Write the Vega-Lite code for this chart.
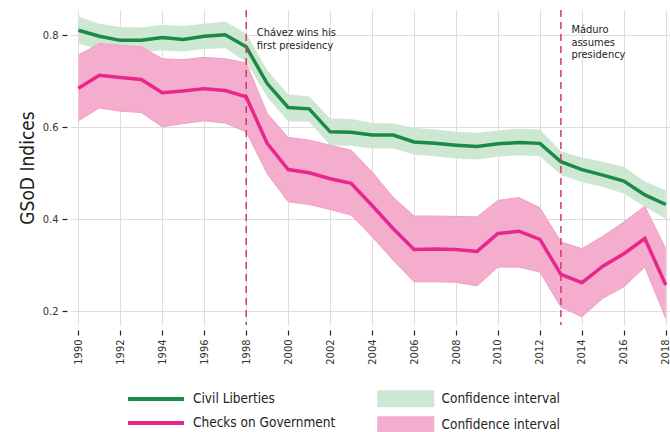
{
  "$schema": "https://vega.github.io/schema/vega-lite/v6.json",
  "width": 600,
  "height": 315,
  "autosize": {"type": "none"},
  "padding": {"left": 70, "top": 10, "right": 0, "bottom": 107},
  "background": "white",
  "config": {
    "font": "Liberation Sans Narrow, DejaVu Sans Condensed, sans-serif",
    "view": {"stroke": null},
    "axis": {"labelColor": "#333", "labelFont": "Liberation Sans Narrow, DejaVu Sans Condensed, sans-serif", "gridColor": "#dddddd", "gridWidth": 1, "tickColor": "#222", "domain": false}
  },
  "datasets": {
    "gsod": [
      {"year": 1990, "series": "Civil Liberties", "band": "CI Civil Liberties", "value": 0.811, "lo": 0.782, "hi": 0.841},
      {"year": 1991, "series": "Civil Liberties", "band": "CI Civil Liberties", "value": 0.798, "lo": 0.769, "hi": 0.825},
      {"year": 1992, "series": "Civil Liberties", "band": "CI Civil Liberties", "value": 0.789, "lo": 0.764, "hi": 0.818},
      {"year": 1993, "series": "Civil Liberties", "band": "CI Civil Liberties", "value": 0.789, "lo": 0.764, "hi": 0.817},
      {"year": 1994, "series": "Civil Liberties", "band": "CI Civil Liberties", "value": 0.795, "lo": 0.767, "hi": 0.823},
      {"year": 1995, "series": "Civil Liberties", "band": "CI Civil Liberties", "value": 0.791, "lo": 0.765, "hi": 0.820},
      {"year": 1996, "series": "Civil Liberties", "band": "CI Civil Liberties", "value": 0.798, "lo": 0.770, "hi": 0.825},
      {"year": 1997, "series": "Civil Liberties", "band": "CI Civil Liberties", "value": 0.801, "lo": 0.772, "hi": 0.830},
      {"year": 1998, "series": "Civil Liberties", "band": "CI Civil Liberties", "value": 0.775, "lo": 0.742, "hi": 0.804},
      {"year": 1999, "series": "Civil Liberties", "band": "CI Civil Liberties", "value": 0.695, "lo": 0.666, "hi": 0.724},
      {"year": 2000, "series": "Civil Liberties", "band": "CI Civil Liberties", "value": 0.643, "lo": 0.613, "hi": 0.672},
      {"year": 2001, "series": "Civil Liberties", "band": "CI Civil Liberties", "value": 0.640, "lo": 0.612, "hi": 0.667},
      {"year": 2002, "series": "Civil Liberties", "band": "CI Civil Liberties", "value": 0.590, "lo": 0.561, "hi": 0.619},
      {"year": 2003, "series": "Civil Liberties", "band": "CI Civil Liberties", "value": 0.589, "lo": 0.560, "hi": 0.618},
      {"year": 2004, "series": "Civil Liberties", "band": "CI Civil Liberties", "value": 0.583, "lo": 0.554, "hi": 0.609},
      {"year": 2005, "series": "Civil Liberties", "band": "CI Civil Liberties", "value": 0.583, "lo": 0.554, "hi": 0.608},
      {"year": 2006, "series": "Civil Liberties", "band": "CI Civil Liberties", "value": 0.568, "lo": 0.541, "hi": 0.599},
      {"year": 2007, "series": "Civil Liberties", "band": "CI Civil Liberties", "value": 0.565, "lo": 0.537, "hi": 0.595},
      {"year": 2008, "series": "Civil Liberties", "band": "CI Civil Liberties", "value": 0.561, "lo": 0.532, "hi": 0.590},
      {"year": 2009, "series": "Civil Liberties", "band": "CI Civil Liberties", "value": 0.558, "lo": 0.530, "hi": 0.588},
      {"year": 2010, "series": "Civil Liberties", "band": "CI Civil Liberties", "value": 0.564, "lo": 0.536, "hi": 0.593},
      {"year": 2011, "series": "Civil Liberties", "band": "CI Civil Liberties", "value": 0.567, "lo": 0.539, "hi": 0.597},
      {"year": 2012, "series": "Civil Liberties", "band": "CI Civil Liberties", "value": 0.565, "lo": 0.537, "hi": 0.595},
      {"year": 2013, "series": "Civil Liberties", "band": "CI Civil Liberties", "value": 0.525, "lo": 0.496, "hi": 0.548},
      {"year": 2014, "series": "Civil Liberties", "band": "CI Civil Liberties", "value": 0.508, "lo": 0.481, "hi": 0.534},
      {"year": 2015, "series": "Civil Liberties", "band": "CI Civil Liberties", "value": 0.496, "lo": 0.470, "hi": 0.525},
      {"year": 2016, "series": "Civil Liberties", "band": "CI Civil Liberties", "value": 0.483, "lo": 0.456, "hi": 0.514},
      {"year": 2017, "series": "Civil Liberties", "band": "CI Civil Liberties", "value": 0.453, "lo": 0.427, "hi": 0.482},
      {"year": 2018, "series": "Civil Liberties", "band": "CI Civil Liberties", "value": 0.432, "lo": 0.401, "hi": 0.463},
      {"year": 1990, "series": "Checks on Government", "band": "CI Checks on Government", "value": 0.685, "lo": 0.614, "hi": 0.757},
      {"year": 1991, "series": "Checks on Government", "band": "CI Checks on Government", "value": 0.713, "lo": 0.642, "hi": 0.782},
      {"year": 1992, "series": "Checks on Government", "band": "CI Checks on Government", "value": 0.708, "lo": 0.635, "hi": 0.778},
      {"year": 1993, "series": "Checks on Government", "band": "CI Checks on Government", "value": 0.704, "lo": 0.632, "hi": 0.775},
      {"year": 1994, "series": "Checks on Government", "band": "CI Checks on Government", "value": 0.675, "lo": 0.601, "hi": 0.749},
      {"year": 1995, "series": "Checks on Government", "band": "CI Checks on Government", "value": 0.679, "lo": 0.608, "hi": 0.747},
      {"year": 1996, "series": "Checks on Government", "band": "CI Checks on Government", "value": 0.684, "lo": 0.614, "hi": 0.752},
      {"year": 1997, "series": "Checks on Government", "band": "CI Checks on Government", "value": 0.680, "lo": 0.609, "hi": 0.749},
      {"year": 1998, "series": "Checks on Government", "band": "CI Checks on Government", "value": 0.666, "lo": 0.590, "hi": 0.740},
      {"year": 1999, "series": "Checks on Government", "band": "CI Checks on Government", "value": 0.565, "lo": 0.499, "hi": 0.630},
      {"year": 2000, "series": "Checks on Government", "band": "CI Checks on Government", "value": 0.508, "lo": 0.438, "hi": 0.578},
      {"year": 2001, "series": "Checks on Government", "band": "CI Checks on Government", "value": 0.501, "lo": 0.432, "hi": 0.572},
      {"year": 2002, "series": "Checks on Government", "band": "CI Checks on Government", "value": 0.488, "lo": 0.421, "hi": 0.561},
      {"year": 2003, "series": "Checks on Government", "band": "CI Checks on Government", "value": 0.478, "lo": 0.409, "hi": 0.550},
      {"year": 2004, "series": "Checks on Government", "band": "CI Checks on Government", "value": 0.430, "lo": 0.362, "hi": 0.503},
      {"year": 2005, "series": "Checks on Government", "band": "CI Checks on Government", "value": 0.380, "lo": 0.311, "hi": 0.448},
      {"year": 2006, "series": "Checks on Government", "band": "CI Checks on Government", "value": 0.334, "lo": 0.264, "hi": 0.407},
      {"year": 2007, "series": "Checks on Government", "band": "CI Checks on Government", "value": 0.335, "lo": 0.264, "hi": 0.407},
      {"year": 2008, "series": "Checks on Government", "band": "CI Checks on Government", "value": 0.334, "lo": 0.263, "hi": 0.406},
      {"year": 2009, "series": "Checks on Government", "band": "CI Checks on Government", "value": 0.330, "lo": 0.255, "hi": 0.405},
      {"year": 2010, "series": "Checks on Government", "band": "CI Checks on Government", "value": 0.369, "lo": 0.296, "hi": 0.441},
      {"year": 2011, "series": "Checks on Government", "band": "CI Checks on Government", "value": 0.374, "lo": 0.296, "hi": 0.447},
      {"year": 2012, "series": "Checks on Government", "band": "CI Checks on Government", "value": 0.356, "lo": 0.285, "hi": 0.425},
      {"year": 2013, "series": "Checks on Government", "band": "CI Checks on Government", "value": 0.280, "lo": 0.209, "hi": 0.351},
      {"year": 2014, "series": "Checks on Government", "band": "CI Checks on Government", "value": 0.262, "lo": 0.188, "hi": 0.336},
      {"year": 2015, "series": "Checks on Government", "band": "CI Checks on Government", "value": 0.298, "lo": 0.228, "hi": 0.363},
      {"year": 2016, "series": "Checks on Government", "band": "CI Checks on Government", "value": 0.325, "lo": 0.253, "hi": 0.394},
      {"year": 2017, "series": "Checks on Government", "band": "CI Checks on Government", "value": 0.358, "lo": 0.296, "hi": 0.428},
      {"year": 2018, "series": "Checks on Government", "band": "CI Checks on Government", "value": 0.257, "lo": 0.184, "hi": 0.336}
    ],
    "events": [
      {"year": 1998},
      {"year": 2013}
    ],
    "notes": [
      {"year": 1998.5, "value": 0.818, "label": ["Chávez wins his", "first presidency"]},
      {"year": 2013.5, "value": 0.824, "label": ["Máduro", "assumes", "presidency"]}
    ]
  },
  "layer": [
    {
      "data": {"name": "gsod"},
      "transform": [{"filter": "datum.series === 'Civil Liberties'"}],
      "mark": {"type": "area", "opacity": 1},
      "encoding": {
        "x": {"field": "year", "type": "quantitative", "scale": {"domain": [1989.6, 2018.2], "nice": false, "zero": false},
          "axis": {"title": null, "values": [1990,1992,1994,1996,1998,2000,2002,2004,2006,2008,2010,2012,2014,2016,2018], "format": "d", "labelAngle": -90, "labelAlign": "right", "labelBaseline": "middle", "labelFontSize": 11, "labelPadding": 4, "offset": 5, "tickSize": 5, "tickWidth": 1.2, "grid": true}},
        "y": {"field": "lo", "type": "quantitative", "scale": {"domain": [0.17, 0.855], "nice": false, "zero": false},
          "axis": {"title": "GSoD Indices", "titleFontSize": 19, "titleFontWeight": "normal", "titleColor": "#222", "titlePadding": 5, "values": [0.2, 0.4, 0.6, 0.8], "format": ".1f", "labelFontSize": 11, "labelPadding": 4, "offset": 3, "tickSize": 5, "tickWidth": 1.2, "grid": true}},
        "y2": {"field": "hi"},
        "fill": {"field": "band", "type": "nominal",
          "scale": {"domain": ["CI Civil Liberties", "CI Checks on Government"], "range": ["#cde7d3", "#f4adcc"]},
          "legend": {"title": null, "orient": "none", "legendX": 329, "legendY": 382, "direction": "vertical", "padding": 0, "symbolType": "M-5,-1.5H5V1.5H-5Z", "symbolSize": 130, "symbolStrokeWidth": 0, "symbolOpacity": 1, "labelFontSize": 13.5, "labelColor": "#222", "labelOffset": 29, "rowPadding": 8, "labelExpr": "'Confidence interval'"}}
      }
    },
    {
      "data": {"name": "gsod"},
      "transform": [{"filter": "datum.series === 'Checks on Government'"}],
      "mark": {"type": "area", "opacity": 1},
      "encoding": {
        "x": {"field": "year", "type": "quantitative"},
        "y": {"field": "lo", "type": "quantitative"},
        "y2": {"field": "hi"},
        "fill": {"field": "band", "type": "nominal"}
      }
    },
    {
      "data": {"name": "gsod"},
      "transform": [{"filter": "datum.series === 'Checks on Government'"}],
      "mark": {"type": "line", "strokeWidth": 1, "color": "#efa0c4"},
      "encoding": {
        "x": {"field": "year", "type": "quantitative"},
        "y": {"field": "hi", "type": "quantitative"}
      }
    },
    {
      "data": {"name": "gsod"},
      "transform": [{"filter": "datum.series === 'Checks on Government'"}],
      "mark": {"type": "line", "strokeWidth": 1, "color": "#efa0c4"},
      "encoding": {
        "x": {"field": "year", "type": "quantitative"},
        "y": {"field": "lo", "type": "quantitative"}
      }
    },
    {
      "data": {"name": "gsod"},
      "mark": {"type": "line", "strokeWidth": 3.5},
      "encoding": {
        "x": {"field": "year", "type": "quantitative"},
        "y": {"field": "value", "type": "quantitative"},
        "stroke": {"field": "series", "type": "nominal",
          "scale": {"domain": ["Civil Liberties", "Checks on Government"], "range": ["#1b8a45", "#e9268b"]},
          "legend": {"title": null, "orient": "none", "legendX": 78, "legendY": 381, "direction": "vertical", "padding": 0, "symbolType": "M-5,0H5", "symbolSize": 125, "symbolStrokeWidth": 4, "labelFontSize": 13.5, "labelColor": "#222", "labelOffset": 29, "rowPadding": 8}}
      }
    },
    {
      "data": {"name": "events"},
      "mark": {"type": "rule", "color": "#d43a63", "strokeWidth": 1.5, "strokeDash": [7, 5]},
      "encoding": {"x": {"field": "year", "type": "quantitative"}}
    },
    {
      "data": {"name": "notes"},
      "mark": {"type": "text", "align": "left", "baseline": "top", "fontSize": 11, "lineHeight": 12.5, "color": "#222", "font": "Liberation Sans Narrow, DejaVu Sans Condensed, sans-serif"},
      "encoding": {
        "x": {"field": "year", "type": "quantitative"},
        "y": {"field": "value", "type": "quantitative"},
        "text": {"field": "label"}
      }
    }
  ]
}
